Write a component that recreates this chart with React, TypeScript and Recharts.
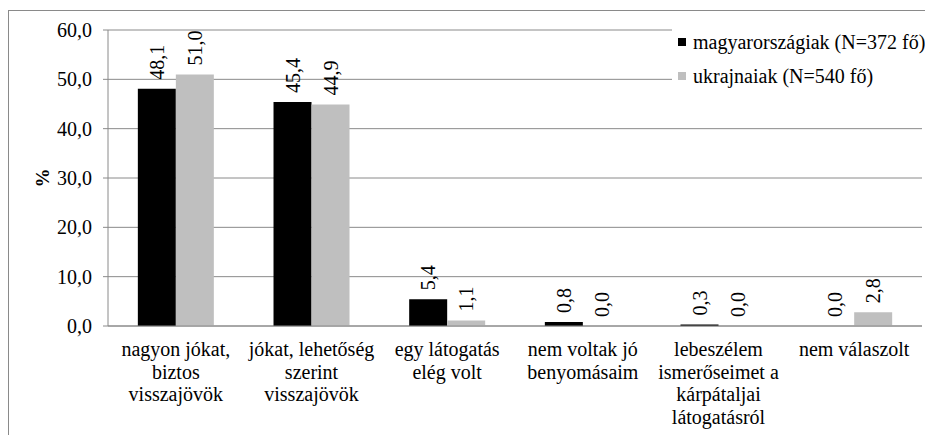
import React from 'react';
import { BarChart, Bar, XAxis, YAxis, CartesianGrid, Legend, LabelList, Label } from 'recharts';

const categories = [
  'nagyon jókat,\nbiztos\nvisszajövök',
  'jókat, lehetőség\nszerint\nvisszajövök',
  'egy látogatás\nelég volt',
  'nem voltak jó\nbenyomásaim',
  'lebeszélem\nismerőseimet a\nkárpátaljai\nlátogatásról',
  'nem válaszolt',
];
const magyarorszagiak = [48.1, 45.4, 5.4, 0.8, 0.3, 0.0];
const ukrajnaiak = [51.0, 44.9, 1.1, 0.0, 0.0, 2.8];
const yTicks = [0, 10, 20, 30, 40, 50, 60];
const boundaryTicks = [0, 1, 2, 3, 4, 5, 6];
const seriesNames = ['magyarországiak (N=372 fő)', 'ukrajnaiak (N=540 fő)'];
const seriesColors = ['#000000', '#BFBFBF'];
const yAxisTitle = '%';

const data = categories.map((c, i) => ({ cat: c, hu: magyarorszagiak[i], ua: ukrajnaiak[i] }));

const FONT = 'Liberation Serif, DejaVu Serif, serif';
const GRID = '#8A8A8A';

const fmt = (v: number) => v.toFixed(1).replace('.', ',');

const CategoryTick = (props: any) => {
  const { x, y, payload } = props;
  const lines = String(payload.value).split('\n');
  return (
    <text x={x} y={y + 30} textAnchor="middle" style={{ fontFamily: FONT }} fontSize={20} fill="#000">
      {lines.map((l, i) => (
        <tspan key={i} x={x} dy={i === 0 ? 0 : 22.5}>{l}</tspan>
      ))}
    </text>
  );
};

const ValueLabel = (props: any) => {
  const { x, y, width, value } = props;
  const cx = x + width / 2;
  const ty = y - 9;
  return (
    <text
      x={cx}
      y={ty}
      transform={`rotate(-90, ${cx}, ${ty})`}
      textAnchor="start"
      dominantBaseline="central"
      style={{ fontFamily: FONT }}
      fontSize={20}
      fill="#000"
    >
      {fmt(Number(value))}
    </text>
  );
};

const LegendContent = () => (
  <div style={{ fontFamily: FONT, fontSize: 20, color: '#000', lineHeight: '24px' }}>
    {seriesNames.map((n, i) => (
      <div key={n} style={{ display: 'flex', alignItems: 'center', height: 34, paddingLeft: 6 }}>
        <span style={{ display: 'inline-block', width: 8, height: 8, background: seriesColors[i], marginRight: 7 }} />
        <span style={{ whiteSpace: 'nowrap' }}>{n}</span>
      </div>
    ))}
  </div>
);

export default function App() {
  return (
    <div style={{ marginTop: 2, borderLeft: '1px solid #8A8A8A', borderTop: '1px solid #8A8A8A', width: 924, height: 424 }}>
      <BarChart
        width={924}
        height={424}
        data={data}
        margin={{ top: 19, right: 11, left: 0, bottom: 0 }}
        barCategoryGap="22%"
        barGap={0}
      >
        <CartesianGrid vertical={false} stroke={GRID} strokeWidth={1} xAxisId="cat" />
        <XAxis
          xAxisId="b"
          type="number"
          domain={[0, 6]}
          ticks={boundaryTicks}
          allowDataOverflow
          tick={false}
          tickSize={6}
          tickLine={{ stroke: GRID }}
          axisLine={false}
          height={0}
        />
        <XAxis
          xAxisId="cat"
          dataKey="cat"
          height={109}
          tickLine={false}
          tickSize={0}
          tickMargin={0}
          axisLine={{ stroke: GRID }}
          tick={<CategoryTick />}
          interval={0}
        />
        <YAxis
          width={99}
          domain={[0, 60]}
          ticks={yTicks}
          tickFormatter={fmt}
          tickSize={5}
          tickMargin={11}
          axisLine={{ stroke: GRID }}
          tickLine={{ stroke: GRID }}
          tick={{ style: { fontFamily: FONT }, fontSize: 20, fill: '#000' }}
        >
          <Label
            content={(p: any) => {
              const vb = p.viewBox;
              const cx = vb.x + 33;
              const cy = vb.y + vb.height / 2;
              return (
                <text
                  x={cx}
                  y={cy}
                  transform={`rotate(-90, ${cx}, ${cy})`}
                  textAnchor="middle"
                  dominantBaseline="central"
                  style={{ fontFamily: FONT }}
                  fontWeight="bold"
                  fontSize={19}
                  fill="#000"
                >
                  {yAxisTitle}
                </text>
              );
            }}
          />
        </YAxis>
        <Legend
          layout="horizontal"
          verticalAlign="middle"
          align="center"
          content={<LegendContent />}
          wrapperStyle={{ left: 663, top: 14, width: 261, height: 85, background: '#fff' }}
        />
        <Bar xAxisId="cat" dataKey="hu" name={seriesNames[0]} fill={seriesColors[0]} minPointSize={0.01} isAnimationActive={false}>
          <LabelList dataKey="hu" content={<ValueLabel />} />
        </Bar>
        <Bar xAxisId="cat" dataKey="ua" name={seriesNames[1]} fill={seriesColors[1]} minPointSize={0.01} isAnimationActive={false}>
          <LabelList dataKey="ua" content={<ValueLabel />} />
        </Bar>
      </BarChart>
    </div>
  );
}
